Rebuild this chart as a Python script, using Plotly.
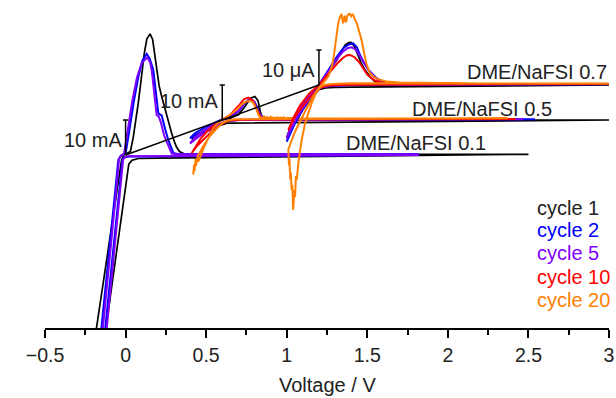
import plotly.graph_objects as go

# ---------------- data (group-local voltage / current, before waterfall offset) -------------
GROUPS = ["DME/NaFSI 0.1", "DME/NaFSI 0.5", "DME/NaFSI 0.7"]
X_SHIFT = [0.0, 0.6, 1.2]          # V offset of each group
Y_SHIFT = [0.0, 10.0, 20.0]        # current offset of each group
SCALE_BAR = 10.0
SCALE_LABELS = ["10 mA", "10 mA", "10 μA"]
CYCLES = ["cycle 1", "cycle 2", "cycle 5", "cycle 10", "cycle 20"]
COLORS = ["#000000", "#0000ff", "#8000ff", "#ff0000", "#ff8000"]
TEXT_COLOR = "#222222"
X_TITLE = "Voltage / V"

# DME/NaFSI 0.1
g1_c1_v = [2.5, 2.0, 1.5, 1.0, 0.5, 0.2, 0.08, 0.04, 0.02, -0.119, -0.154,
           -0.215, -0.178, -0.10, -0.04, -0.024, -0.01, 0.01, 0.03, 0.048, 0.079, 0.104, 0.116, 0.132,
           0.152, 0.168, 0.18, 0.193, 0.208, 0.224, 0.245, 0.265, 0.286, 0.303, 0.317, 0.335, 0.36,
           0.5, 1.0, 1.5, 2.0, 2.5]
g1_c1_i = [0.2, 0.0, -0.2, -0.4, -0.7, -0.9, -1.0, -1.5, -2.6, -48.6, -60,
           -60, -48.6, -24.0, -5.0, -1.2, 0.0, 0.4, 1.0, 5.2, 14.9, 24.3, 29.0, 33.2,
           34.6, 33.0, 29.0, 24.3, 19.8, 16.7, 12.9, 9.3, 6.2, 3.8, 2.2, 1.0, 0.4,
           0.2, 0.2, 0.2, 0.2, 0.2]
g1_c2_v = [1.82, 1.0, 0.4, 0.1, 0.02, -0.01, -0.02, -0.124, -0.149,
           -0.173, -0.148, -0.10, -0.06, -0.045, -0.03, -0.01, 0.0, 0.02, 0.05, 0.08, 0.105, 0.131,
           0.15, 0.172, 0.19, 0.203, 0.212, 0.224, 0.245, 0.265, 0.296, 0.33, 0.5, 1.0, 1.82]
g1_c2_i = [0.0, -0.1, -0.2, -0.3, -0.4, -0.7, -1.5, -48.6, -60,
           -60, -48.6, -26.6, -8.3, -1.4, -0.2, 0.2, 0.5, 6.0, 15.0, 22.5, 27.0, 28.9,
           27.5, 24.3, 17.0, 12.0, 11.6, 11.3, 7.5, 4.3, 0.6, 0.2, 0.2, 0.2, 0.2]
g1_c5_v = [1.82, 1.0, 0.4, 0.1, 0.02, 0.0, -0.015, -0.115, -0.14,
           -0.163, -0.138, -0.09, -0.055, -0.04, -0.025, -0.01, 0.01, 0.04, 0.07, 0.10, 0.135,
           0.152, 0.162, 0.175, 0.186, 0.193, 0.205, 0.218, 0.24, 0.265, 0.286, 0.32, 0.5, 1.0, 1.82]
g1_c5_i = [0.0, -0.1, -0.2, -0.3, -0.35, -0.5, -1.2, -48.6, -60,
           -60, -48.6, -25.5, -8.5, -1.0, -0.1, 0.3, 6.0, 15.0, 22.0, 26.3, 27.9,
           26.5, 24.3, 18.0, 13.5, 11.4, 11.0, 9.5, 5.5, 2.4, 0.4, 0.2, 0.2, 0.2, 0.2]

# DME/NaFSI 0.5
g5_c1_v = [2.4, 1.5, 0.8, 0.3, 0.1, 0.03, 0.0, -0.05, -0.1, -0.15, -0.19,
           -0.15, -0.1, -0.05, 0.0, 0.05, 0.1, 0.14, 0.175, 0.203, 0.222, 0.234, 0.245, 0.26,
           0.3, 0.6, 1.2, 2.4]
g5_c1_i = [0.0, -0.3, -0.5, -0.6, -0.7, -0.9, -1.3, -2.3, -3.3, -4.4, -5.5,
           -4.0, -2.6, -1.2, 0.0, 0.5, 1.5, 3.8, 6.2, 6.7, 5.5, 2.9, 0.9, 0.2,
           0.0, 0.0, 0.0, 0.0]
g5_c2_v = [1.94, 1.0, 0.4, 0.1, 0.03, 0.0, -0.05, -0.1, -0.15, -0.2,
           -0.17, -0.138, -0.1, -0.056, -0.003, 0.048, 0.10, 0.141, 0.165, 0.182, 0.2, 0.215,
           0.235, 0.26, 0.3, 0.6, 1.94]
g5_c2_i = [0.2, 0.1, 0.1, 0.0, -0.3, -0.8, -1.8, -2.9, -4.0, -5.2,
           -3.8, -2.9, -1.9, -1.0, 0.2, 0.9, 2.4, 4.8, 5.7, 5.9, 5.2, 3.8,
           1.6, 0.5, 0.2, 0.2, 0.2]
g5_c5_v = [1.87, 1.0, 0.4, 0.1, 0.03, 0.0, -0.05, -0.1, -0.15, -0.2,
           -0.17, -0.13, -0.09, -0.05, 0.0, 0.05, 0.1, 0.14, 0.16, 0.175, 0.195, 0.21,
           0.23, 0.255, 0.3, 0.6, 1.87]
g5_c5_i = [0.2, 0.1, 0.1, 0.0, -0.3, -0.9, -2.1, -3.4, -4.9, -6.7,
           -5.0, -3.5, -2.2, -1.1, 0.1, 1.0, 2.6, 4.9, 5.7, 5.9, 5.3, 3.8,
           1.6, 0.4, 0.2, 0.2, 0.2]
g5_c10_v = [1.82, 1.0, 0.4, 0.1, 0.03, 0.0, -0.06, -0.12, -0.16, -0.19,
            -0.16, -0.138, -0.1, -0.056, 0.0, 0.05, 0.1, 0.135, 0.162, 0.19, 0.215, 0.24,
            0.27, 0.3, 0.6, 1.82]
g5_c10_i = [0.3, 0.2, 0.2, 0.1, -0.3, -1.0, -3.0, -5.7, -7.6, -9.5,
            -7.0, -5.6, -3.5, -1.7, 0.1, 1.5, 4.0, 6.0, 6.4, 5.5, 3.0, 0.8,
            0.3, 0.3, 0.3, 0.3]
g5_c20_v = [1.77, 1.0, 0.5, 0.2, 0.08, 0.03, 0.0, -0.03, -0.06, -0.08, -0.1, -0.12, -0.14, -0.15,
            -0.16, -0.165, -0.17, -0.175, -0.18,
            -0.176, -0.172, -0.168, -0.163, -0.158, -0.149, -0.13, -0.107, -0.08, -0.056,
            -0.03, 0.0, 0.03, 0.06, 0.09, 0.12, 0.15, 0.175, 0.19, 0.205,
            0.22, 0.23, 0.24, 0.25, 0.26, 0.27, 0.28, 0.29, 0.30, 0.31,
            0.32, 0.33, 0.34, 0.35, 0.36, 0.37, 0.38, 0.39, 0.40, 0.41,
            0.42, 0.45, 0.6, 1.0, 1.77]
g5_c20_i = [0.5, 0.4, 0.4, 0.3, 0.2, -0.2, -0.9, -2.2, -3.6, -4.8, -6.2, -7.6, -9.4, -10.0,
            -12.2, -11.2, -13.6, -12.8, -15.6,
            -13.4, -14.6, -12.0, -13.1, -11.2, -11.9, -9.5, -7.1, -4.6, -2.4,
            -1.0, 0.1, 0.8, 1.8, 3.0, 4.4, 5.3, 5.4, 5.1, 3.8,
            2.0, 1.0, 0.9, 0.5, 1.0, 0.6, 0.8, 0.4, 0.9, 0.6,
            0.7, 0.4, 0.8, 0.5, 0.7, 0.5, 0.8, 0.4, 0.6, 0.5,
            0.6, 0.5, 0.4, 0.4, 0.5]

# DME/NaFSI 0.7
g7_c1_v = [1.8, 1.0, 0.5, 0.2, 0.1, 0.04, 0.0, -0.05, -0.1, -0.15, -0.2,
           -0.17, -0.12, -0.06, 0.0, 0.05, 0.11, 0.14, 0.162, 0.185, 0.2,
           0.22, 0.245, 0.265, 0.286, 0.317, 0.348, 0.38, 0.45, 1.0, 1.8]
g7_c1_i = [0.0, -0.2, -0.4, -0.6, -0.7, -0.8, -1.3, -3.8, -7.0, -10.8, -15.0,
           -11.0, -6.5, -2.8, 0.0, 3.5, 7.1, 9.6, 11.4, 12.1, 12.2,
           11.0, 8.1, 6.0, 4.3, 2.4, 0.9, 0.3, 0.1, 0.0, 0.0]
g7_c2_v = [1.8, 1.0, 0.5, 0.2, 0.08, 0.03, 0.0, -0.05, -0.1, -0.15, -0.2,
           -0.17, -0.12, -0.06, 0.0, 0.035, 0.069, 0.11, 0.151, 0.185, 0.213,
           0.235, 0.255, 0.28, 0.307, 0.335, 0.359, 0.4, 0.45, 0.6, 1.0, 1.8]
g7_c2_i = [0.2, 0.1, 0.1, 0.0, -0.2, -0.5, -1.0, -3.5, -7.0, -11.0, -16.2,
           -12.0, -7.0, -3.0, 0.0, 2.6, 5.2, 8.0, 10.5, 11.6, 11.9,
           10.8, 8.6, 6.3, 4.3, 2.9, 1.9, 0.9, 0.5, 0.3, 0.2, 0.2]
g7_c5_v = [1.8, 1.0, 0.5, 0.2, 0.08, 0.03, 0.0, -0.05, -0.1, -0.15, -0.2,
           -0.17, -0.12, -0.06, 0.0, 0.035, 0.069, 0.11, 0.15, 0.18, 0.203,
           0.23, 0.255, 0.28, 0.31, 0.34, 0.37, 0.41, 0.46, 0.6, 1.0, 1.8]
g7_c5_i = [0.3, 0.2, 0.1, 0.0, -0.2, -0.5, -1.0, -3.3, -6.6, -10.4, -15.3,
           -11.4, -6.7, -2.9, 0.0, 2.4, 4.8, 7.4, 9.6, 10.6, 10.8,
           10.0, 8.2, 6.2, 4.1, 2.6, 1.5, 0.8, 0.4, 0.3, 0.3, 0.3]
g7_c10_v = [1.8, 1.0, 0.5, 0.2, 0.08, 0.03, 0.0, -0.05, -0.1, -0.15, -0.19,
            -0.16, -0.12, -0.06, 0.0, 0.035, 0.069, 0.11, 0.15, 0.175, 0.193,
            0.22, 0.25, 0.275, 0.30, 0.33, 0.35, 0.40, 0.46, 0.6, 1.0, 1.8]
g7_c10_i = [0.3, 0.2, 0.2, 0.1, -0.1, -0.4, -1.0, -3.2, -6.0, -9.2, -12.9,
            -9.5, -6.0, -2.4, 0.0, 1.9, 3.7, 6.0, 7.8, 8.5, 8.6,
            8.0, 6.5, 4.8, 3.0, 1.8, 1.2, 0.5, 0.3, 0.3, 0.3, 0.3]
g7_c20_v = [1.8, 1.0, 0.6, 0.4, 0.2, 0.08, 0.03, 0.0, -0.04, -0.08, -0.12, -0.15, -0.175, -0.19,
            -0.186, -0.183, -0.178, -0.174, -0.17, -0.165, -0.16,
            -0.152, -0.148, -0.143, -0.138, -0.133, -0.128, -0.118, -0.107, -0.086, -0.065,
            -0.045, -0.02, 0.007, 0.03, 0.058, 0.075, 0.089, 0.1, 0.11, 0.12,
            0.131, 0.14, 0.15, 0.16, 0.168, 0.178, 0.19, 0.2, 0.21, 0.218,
            0.225, 0.235, 0.245, 0.255, 0.265, 0.28, 0.295, 0.315, 0.34, 0.37,
            0.42, 0.5, 0.7, 1.0, 1.8]
g7_c20_i = [0.4, 0.4, 0.5, 0.6, 0.5, 0.3, 0.0, -0.8, -3.5, -7.0, -10.5, -13.5, -16.5, -18.5,
            -23.0, -21.0, -27.0, -25.0, -30.0, -28.5, -35.7,
            -30.0, -32.0, -26.0, -27.1, -24.0, -22.4, -19.0, -15.7, -10.9, -7.8,
            -5.2, -2.4, -0.5, 0.8, 2.4, 4.5, 7.1, 11.0, 15.7, 17.8,
            19.5, 20.3, 17.6, 19.8, 17.9, 20.0, 20.4, 19.6, 20.3, 19.0,
            18.6, 17.6, 16.2, 14.5, 12.8, 9.2, 6.0, 3.5, 2.3, 1.6,
            1.0, 0.7, 0.5, 0.4, 0.4]

CURVES = [
    (0, 0, g1_c1_v, g1_c1_i), (0, 1, g1_c2_v, g1_c2_i), (0, 2, g1_c5_v, g1_c5_i),
    (1, 0, g5_c1_v, g5_c1_i), (1, 1, g5_c2_v, g5_c2_i), (1, 2, g5_c5_v, g5_c5_i),
    (1, 3, g5_c10_v, g5_c10_i), (1, 4, g5_c20_v, g5_c20_i),
    (2, 0, g7_c1_v, g7_c1_i), (2, 1, g7_c2_v, g7_c2_i), (2, 2, g7_c5_v, g7_c5_i),
    (2, 3, g7_c10_v, g7_c10_i), (2, 4, g7_c20_v, g7_c20_i),
]

FONT = "Liberation Sans, Arial, sans-serif"

fig = go.Figure()
for g, c, v, i in CURVES:
    fig.add_trace(go.Scatter(
        x=[x + X_SHIFT[g] for x in v],
        y=[y + Y_SHIFT[g] for y in i],
        mode="lines",
        line=dict(color=COLORS[c], width=1.7 if c == 0 else 2.0),
        showlegend=False, hoverinfo="skip"))

# scale bars and the waterfall guide line
sb_x, sb_y = [], []
for g in range(len(GROUPS)):
    bx, by = X_SHIFT[g], Y_SHIFT[g]
    sb_x += [bx, bx, None, bx - 0.016, bx + 0.016, None]
    sb_y += [by, by + SCALE_BAR, None, by + SCALE_BAR, by + SCALE_BAR, None]
fig.add_trace(go.Scatter(x=sb_x, y=sb_y, mode="lines",
                         line=dict(color="black", width=1.5), showlegend=False, hoverinfo="skip"))
fig.add_trace(go.Scatter(x=X_SHIFT, y=Y_SHIFT, mode="lines",
                         line=dict(color="black", width=1.5), showlegend=False, hoverinfo="skip"))

ann = []
# group labels
label_pos = [(2.25, 3.35), (2.657, 13.05), (3.0, 23.8)]
for g, (lx, ly) in enumerate(label_pos):
    ann.append(dict(x=lx, y=ly, xref="x", yref="y", text=GROUPS[g], showarrow=False,
                    xanchor="right", yanchor="middle",
                    font=dict(family=FONT, size=20, color=TEXT_COLOR)))
# scale labels
scale_y = [4.3, 15.3, 24.3]
for g in range(len(GROUPS)):
    ann.append(dict(x=X_SHIFT[g], y=scale_y[g], xref="x", yref="y", text=SCALE_LABELS[g],
                    showarrow=False, xanchor="right", yanchor="middle", xshift=-2,
                    font=dict(family=FONT, size=20, color=TEXT_COLOR)))
# colored-text legend
leg_y = [0.366, 0.299, 0.229, 0.155, 0.085]
for c, name in enumerate(CYCLES):
    ann.append(dict(x=0.868, y=leg_y[c], xref="paper", yref="paper", text=name,
                    showarrow=False, xanchor="left", yanchor="middle",
                    font=dict(family=FONT, size=20,
                              color=TEXT_COLOR if c == 0 else COLORS[c])))
# x-axis title
ann.append(dict(x=0.5, y=0, xref="paper", yref="paper", text=X_TITLE, showarrow=False,
                xanchor="center", yanchor="middle", yshift=-57,
                font=dict(family=FONT, size=20, color=TEXT_COLOR)))

fig.update_layout(
    width=616, height=398,
    margin=dict(l=45, r=7, t=0, b=70),
    paper_bgcolor="white", plot_bgcolor="white",
    annotations=ann,
    xaxis=dict(range=[-0.5, 3.0], dtick=0.5, tick0=0, ticks="outside", ticklen=8, tickwidth=1.5,
               tickcolor="black", showline=True, linewidth=1.5, linecolor="black",
               showgrid=False, zeroline=False, ticklabelstandoff=1,
               tickfont=dict(family=FONT, size=19.5, color=TEXT_COLOR),
               minor=dict(dtick=0.25, ticks="outside", ticklen=5, tickwidth=1.5, tickcolor="black",
                          showgrid=False)),
    yaxis=dict(range=[-49.43, 44.29], visible=False),
)

fig.write_html("out.html")
